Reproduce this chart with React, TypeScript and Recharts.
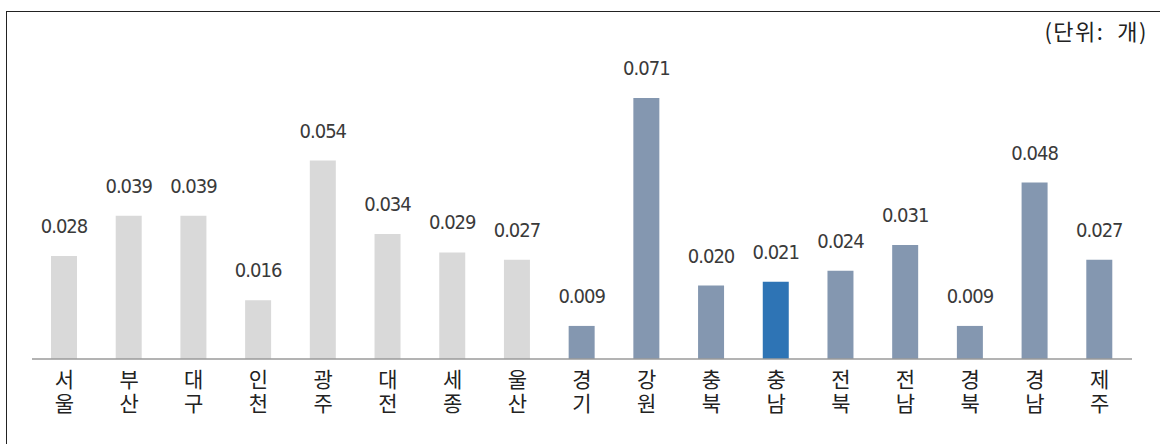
import { BarChart, Bar, XAxis, YAxis, Cell, LabelList } from 'recharts';

const regions = ['서울', '부산', '대구', '인천', '광주', '대전', '세종', '울산', '경기', '강원', '충북', '충남', '전북', '전남', '경북', '경남', '제주'];
const values = [0.028, 0.039, 0.039, 0.016, 0.054, 0.034, 0.029, 0.027, 0.009, 0.071, 0.02, 0.021, 0.024, 0.031, 0.009, 0.048, 0.027];
const metroCount = 8; // 특별·광역시 + 세종
const highlight = '충남';

const data = regions.map((name, i) => ({ name, value: values[i] }));

const colorFor = (name: string, i: number) => {
  if (name === highlight) return '#2e74b5';
  return i < metroCount ? '#d9d9d9' : '#8497b0';
};

// 세로로 한 글자씩 쓰는 지역명
function VerticalTick(props: any) {
  const { x, y, payload } = props;
  const chars = String(payload.value).split('');
  return (
    <g>
      {chars.map((c, i) => (
        <text
          key={i}
          x={x}
          y={y + 28 + i * 24}
          textAnchor="middle"
          fill="#222"
          fontSize={21}
          fontFamily="'Noto Sans CJK KR', sans-serif"
        >
          {c}
        </text>
      ))}
    </g>
  );
}

export default function App() {
  return (
    <div style={{ position: 'relative', width: 1160, height: 444, background: '#fff', overflow: 'hidden' }}>
      <style>{'body{margin:0}'}</style>
      <div
        style={{
          position: 'absolute',
          left: 6,
          top: 11,
          right: -2,
          bottom: -2,
          borderTop: '1px solid #222',
          borderLeft: '1px solid #222',
        }}
      />
      <div
        style={{
          position: 'absolute',
          right: 12,
          top: 17,
          fontSize: 22,
          letterSpacing: 1.5,
          whiteSpace: 'pre',
          fontFamily: "'Noto Sans CJK KR', sans-serif",
          color: '#222',
          lineHeight: '26px',
        }}
      >
        (단위:  개)
      </div>
      <BarChart
        width={1160}
        height={444}
        data={data}
        margin={{ top: 65, right: 28, bottom: 25, left: 32 }}
        barSize={26}
      >
        <XAxis
          dataKey="name"
          axisLine={{ stroke: '#9a9a9a', strokeWidth: 1.5 }}
          tickLine={false}
          tickSize={0}
          tickMargin={0}
          height={60}
          interval={0}
          tick={<VerticalTick />}
        />
        <YAxis hide domain={[0, 0.08]} />
        <Bar dataKey="value" isAnimationActive={false}>
          {data.map((d, i) => (
            <Cell key={d.name} fill={colorFor(d.name, i)} />
          ))}
          <LabelList
            dataKey="value"
            position="top"
            offset={23}
            formatter={(v: any) => Number(v).toFixed(3)}
            style={{
              fontSize: 20,
              letterSpacing: -1,
              fontFamily: "'DejaVu Sans Condensed', sans-serif",
              fill: '#3a3a3a',
            }}
          />
        </Bar>
      </BarChart>
    </div>
  );
}
